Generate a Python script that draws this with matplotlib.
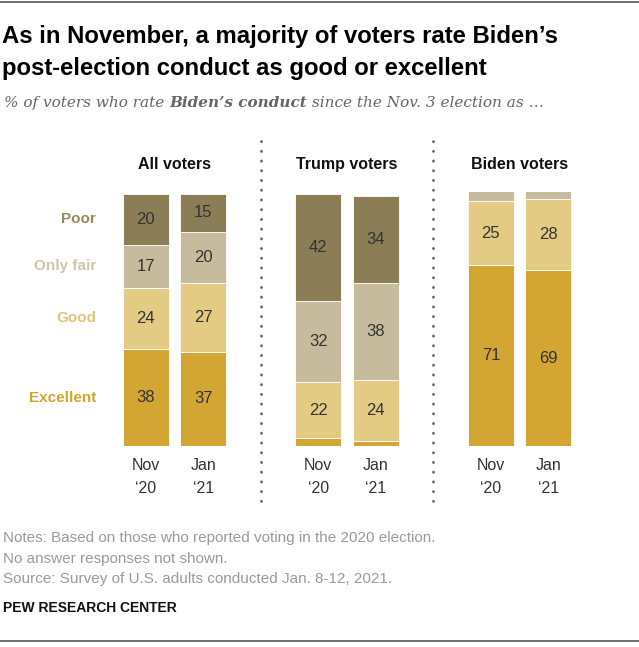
import numpy as np
import matplotlib
matplotlib.use("Agg")
import matplotlib.pyplot as plt

# data (% of voters)
groups = ["All voters", "Trump voters", "Biden voters"]
periods = ["Nov\n\u201820", "Jan\n\u201821"]
categories = ["Excellent", "Good", "Only fair", "Poor"]

excellent = [38, 37, 3, 2, 71, 69]
good = [24, 27, 22, 24, 25, 28]
only_fair = [17, 20, 32, 38, 4, 3]
poor = [20, 15, 42, 34, 0, 0]

colors = ["#D3A633", "#E3CB84", "#C6BC9D", "#8B7D55"]
label_colors = ["#D4A52A", "#E2C577", "#CFC6A8", "#978A5E"]

W, H = 639, 647
fig = plt.figure(figsize=(W / 100, H / 100), dpi=100)


def px(x, y):
    return x / W, 1 - y / H


# bars axes: x unit = 57.5 px, bar 0 centred at 145.5 px; y 0..100 over 446..191 px
ax = fig.add_axes([88 / W, (H - 446) / H, 518 / W, 255 / H])
ax.set_xlim(-1, 8)
ax.set_ylim(0, 100)
ax.axis("off")

xs = np.array([g * 3 + p for g in range(len(groups)) for p in range(len(periods))])
series = [excellent, good, only_fair, poor]
bottom = np.zeros(len(xs))
for vals, col in zip(series, colors):
    vals = np.array(vals, dtype=float)
    ax.bar(xs, vals, bottom=bottom, width=0.8, color=col, edgecolor="white", linewidth=0.6)
    for x, v, b in zip(xs, vals, bottom):
        if v >= 10:
            ax.text(x, b + v / 2, f"{v:.0f}", ha="center", va="center",
                    fontsize=12, color="#333333", family="Liberation Sans")
    bottom += vals

# category labels next to the first bar
cum = 0
for cat, vals, lc in zip(categories, series, label_colors):
    ax.text(-0.86, cum + vals[0] / 2, cat, ha="right", va="center", fontsize=11,
            fontweight="bold", color=lc, family="Liberation Sans")
    cum += vals[0]

# group titles
for g, name in enumerate(groups):
    ax.text(g * 3 + 0.5, 110.5, name, ha="center", va="center", fontsize=11.5,
            fontweight="bold", color="#111111", family="Liberation Sans")

# period labels
for x, p in zip(xs, periods * len(groups)):
    ax.text(x, -4.8, p, ha="center", va="top", fontsize=11.5, color="#333333",
            family="Liberation Sans", linespacing=1.65)

# dotted separators
for sx in [2, 5]:
    ax.plot([sx, sx], [-21.5, 121], linestyle=(0, (0.1, 3.4)), linewidth=2.0,
            color="#666666", clip_on=False, dash_capstyle="round")

# title
for yy, line in [(36, "As in November, a majority of voters rate Biden\u2019s"),
                 (68, "post-election conduct as good or excellent")]:
    fig.text(*px(2, yy), line, fontsize=17.2, fontweight="bold", family="Liberation Sans",
             va="center", ha="left", color="#000000")

# subtitle with bold part
renderer = fig.canvas.get_renderer()
x0 = 4
parts = [("% of voters who rate ", "normal"), ("Biden\u2019s conduct", "bold"),
         (" since the Nov. 3 election as \u2026", "normal")]
for s, wgt in parts:
    t = fig.text(*px(x0, 103), s, fontsize=11, style="italic", fontweight=wgt,
                 family="DejaVu Serif", color="#666666", va="center", ha="left")
    bb = t.get_window_extent(renderer=renderer)
    x0 += bb.width

# notes
notes = ["Notes: Based on those who reported voting in the 2020 election.",
         "No answer responses not shown.",
         "Source: Survey of U.S. adults conducted Jan. 8-12, 2021."]
for i, line in enumerate(notes):
    fig.text(*px(3, 538 + i * 20.5), line, fontsize=11, color="#9A9A9A",
             family="Liberation Sans", va="center", ha="left")
fig.text(*px(3, 608), "PEW RESEARCH CENTER", fontsize=10, fontweight="bold",
         color="#111111", family="Liberation Sans", va="center", ha="left")

# top and bottom rules
fig.add_artist(plt.Line2D([0, 1], [1 - 2 / H, 1 - 2 / H], color="#555555", linewidth=1.2))
fig.add_artist(plt.Line2D([0, 1], [1 - 641 / H, 1 - 641 / H], color="#555555", linewidth=1.2))

fig.savefig("out.png", dpi=100)
